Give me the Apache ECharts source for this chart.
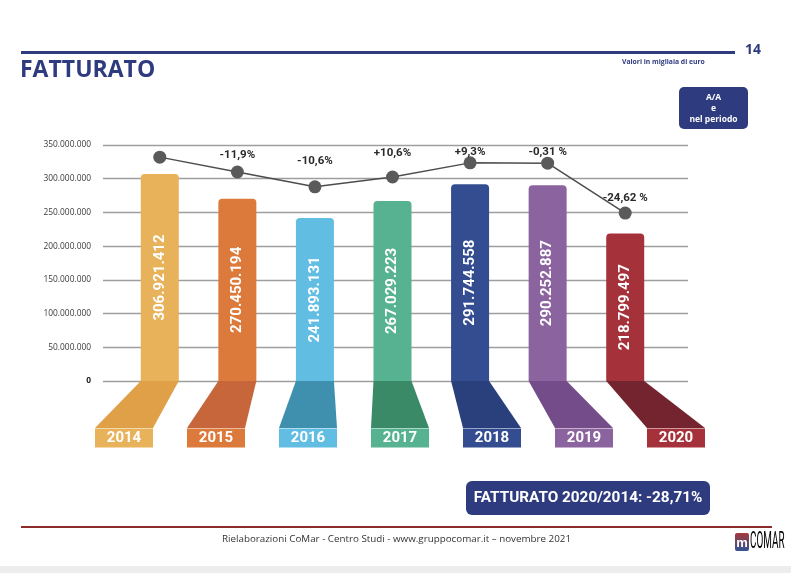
<!DOCTYPE html>
<html><head><meta charset="utf-8">
<script src="https://cdn.jsdelivr.net/npm/echarts@6/dist/echarts.min.js"></script>
<style>html,body{margin:0;padding:0;background:#fff}#c{width:791px;height:573px}</style>
</head><body><div id="c"></div>
<script>
// ---------- DATA ----------
const years = ['2014', '2015', '2016', '2017', '2018', '2019', '2020'];
const revenue = [306921412, 270450194, 241893131, 267029223, 291744558, 290252887, 218799497];
// decorative trend-line markers (on the same value scale)
const trendMarkers = [332000000, 310000000, 288000000, 302500000, 323500000, 323000000, 249000000];
const changeLabels = ['', '-11,9%', '-10,6%', '+10,6%', '+9,3%', '-0,31 %', '-24,62 %'];
const yMin = 0, yMax = 350000000, yStep = 50000000;
const titleText = 'FATTURATO';
const pageNumber = '14';
const unitNote = 'Valori in migliaia di euro';
const legendLines = ['A/A', 'e', 'nel periodo'];
const summaryText = 'FATTURATO 2020/2014: -28,71%';
const footerText = 'Rielaborazioni CoMar - Centro Studi - www.gruppocomar.it \u2013 novembre 2021';
const logoText = 'COMAR';

// ---------- STYLE ----------
const barColors = ['#E8B25A', '#DC7A3C', '#62BDE2', '#56B290', '#344D90', '#8B639E', '#A5323A'];
const ribbonColors = ['#DFA047', '#C7663A', '#3F8FAE', '#3A8967', '#2A407D', '#754C8A', '#74242E'];
const labelLift = [0, 4, 13, 11, -2, -1, 2];
const NAVY = '#2E3B7E';
const COND = 'Roboto, "DejaVu Sans", sans-serif';

const dotted = v => String(Math.round(v)).replace(/\B(?=(\d{3})+(?!\d))/g, '.');

const chart = echarts.init(document.getElementById('c'), null, {renderer: 'canvas'});

const rich = {};
years.forEach((y, i) => {
  rich['y' + i] = {
    width: 58, height: 19, lineHeight: 20, align: 'center', verticalAlign: 'middle',
    backgroundColor: barColors[i], color: '#fff', fontWeight: 'bold', fontSize: 15, fontFamily: COND
  };
});

const option = {
  animation: false,
  backgroundColor: '#fff',
  grid: [
    {left: 121, right: 127, top: 145, bottom: 192},
    {left: 78, right: 69, top: 381, bottom: 145},
    {left: 103, right: 103, top: 145, bottom: 192}
  ],
  xAxis: [
    {type: 'category', gridIndex: 0, data: years, show: false},
    {type: 'category', gridIndex: 1, data: years, axisLine: {show: false}, axisTick: {show: false},
      axisLabel: {margin: 0, interval: 0, formatter: (v, i) => '{y' + i + '|' + v + '}', rich: rich}},
    {type: 'category', gridIndex: 2, data: years, show: false}
  ],
  yAxis: [
    {type: 'value', gridIndex: 0, min: yMin, max: yMax, interval: yStep, show: false},
    {type: 'value', gridIndex: 1, min: 0, max: 1, show: false},
    {type: 'value', gridIndex: 2, min: yMin, max: yMax, interval: yStep,
      axisLine: {show: false}, axisTick: {show: false},
      splitLine: {show: true, lineStyle: {color: '#9E9E9E', width: 1.3}},
      axisLabel: {margin: 12, color: '#3a3a3a', fontSize: 8.4, fontFamily: '"Open Sans", sans-serif',
        formatter: v => v === 0 ? '{z|0}' : dotted(v),
        rich: {z: {fontWeight: 'bold', fontSize: 8.4, color: '#222', fontFamily: '"Open Sans", sans-serif'}}}}
  ],
  series: [
    {
      type: 'bar', xAxisIndex: 0, yAxisIndex: 0, barWidth: 38, z: 3,
      data: revenue.map((v, i) => ({value: v, itemStyle: {color: barColors[i], borderRadius: [4, 4, 0, 0]}})),
      label: {show: true, position: 'inside', rotate: 90, color: '#fff', fontWeight: 'bold',
        fontSize: 15, fontFamily: COND, formatter: p => dotted(p.value)}
    },
    {
      type: 'line', xAxisIndex: 0, yAxisIndex: 0, z: 5,
      data: trendMarkers.map((v, i) => ({value: v, label: {distance: labelLift[i]}})),
      symbol: 'circle', symbolSize: 13,
      itemStyle: {color: '#5A5A5A'},
      lineStyle: {color: '#4d4d4d', width: 1.5},
      label: {show: true, position: 'top', color: '#2a2a2a', fontWeight: 'bold', fontSize: 11.5,
        fontFamily: COND, formatter: p => changeLabels[p.dataIndex]}
    }
  ],
  graphic: [
    {type: 'rect', left: 21, top: 51, shape: {width: 714, height: 3}, style: {fill: NAVY}},
    {type: 'text', x: 745, y: 50, style: {text: pageNumber, fill: NAVY, font: 'bold 14px "Open Sans", sans-serif', textVerticalAlign: 'middle'}},
    {type: 'text', x: 20, y: 70, style: {text: titleText, fill: NAVY, font: 'bold 23px "Open Sans", sans-serif', textVerticalAlign: 'middle'}},
    {type: 'text', x: 622, y: 62, style: {text: unitNote, fill: NAVY, font: 'bold 6.8px "Open Sans", sans-serif', textVerticalAlign: 'middle'}},
    {type: 'rect', shape: {x: 679, y: 87, width: 69, height: 42, r: 5}, style: {fill: NAVY}},
    {type: 'text', x: 713.5, y: 98, style: {text: legendLines[0], fill: '#fff', font: 'bold 8.5px "Open Sans", sans-serif', textAlign: 'center', textVerticalAlign: 'middle'}},
    {type: 'text', x: 713.5, y: 109, style: {text: legendLines[1], fill: '#fff', font: 'bold 8.5px "Open Sans", sans-serif', textAlign: 'center', textVerticalAlign: 'middle'}},
    {type: 'text', x: 713.5, y: 120, style: {text: legendLines[2], fill: '#fff', font: 'bold 8.5px "Open Sans", sans-serif', textAlign: 'center', textVerticalAlign: 'middle'}},
    {type: 'rect', shape: {x: 466, y: 481, width: 244, height: 34, r: 6}, style: {fill: NAVY}},
    {type: 'text', x: 588, y: 498, style: {text: summaryText, fill: '#fff', font: 'bold 15.3px ' + COND, textAlign: 'center', textVerticalAlign: 'middle'}},
    {type: 'rect', shape: {x: 21, y: 526, width: 751, height: 2}, style: {fill: '#8C2B2B'}},
    {type: 'text', x: 222, y: 539, style: {text: footerText, fill: '#333', font: '9.8px "Open Sans", sans-serif', textVerticalAlign: 'middle'}},
    {type: 'rect', shape: {x: 0, y: 566, width: 791, height: 7}, style: {fill: '#EDEDED'}},
    {type: 'rect', shape: {x: 735, y: 533, width: 14, height: 18, r: 2},
      style: {fill: new echarts.graphic.LinearGradient(0, 0, 0, 1, [{offset: 0, color: '#A8383A'}, {offset: 1, color: '#2F5394'}])}},
    {type: 'text', x: 742, y: 543, style: {text: 'm', fill: '#fff', font: 'bold 13px sans-serif', textAlign: 'center', textVerticalAlign: 'middle'}},
    {type: 'text', x: 750, y: 542, scaleX: 0.43, style: {text: logoText, font: '23px ' + COND, textVerticalAlign: 'middle',
      fill: new echarts.graphic.LinearGradient(0, 0, 0, 1, [{offset: 0, color: '#9A3B42'}, {offset: 0.45, color: '#3E5C99'}, {offset: 1, color: '#2F5394'}])}}
  ]
};
chart.setOption(option);

// ribbons connecting each bar's base to its year box (positions from both axes)
chart.setOption({
  series: [
    {}, {},
    {
      type: 'custom', xAxisIndex: 0, yAxisIndex: 0, z: 1, silent: true,
      data: years.map((y, i) => [i]),
      renderItem: (params, api) => {
        const i = api.value(0);
        const top = api.coord([i, 0]);
        const bot = chart.convertToPixel({gridIndex: 1}, [i, 0]);
        const ht = 19, hb = 29;
        return {
          type: 'polygon',
          shape: {points: [[top[0] - ht, top[1]], [top[0] + ht, top[1]], [bot[0] + hb, bot[1]], [bot[0] - hb, bot[1]]]},
          style: {fill: ribbonColors[i]}
        };
      }
    }
  ]
});
</script>
</body></html>
